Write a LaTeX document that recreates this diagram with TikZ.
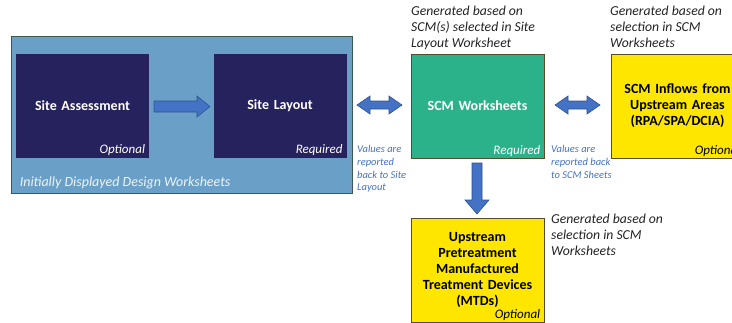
\documentclass[tikz,border=0pt]{standalone}
\usepackage{fontspec}
\setmainfont{Carlito}
\definecolor{panel}{RGB}{106,160,200}
\definecolor{paneledge}{RGB}{60,90,80}
\definecolor{navy}{RGB}{38,34,94}
\definecolor{scmgreen}{RGB}{44,178,139}
\definecolor{scmyellow}{RGB}{255,230,0}
\definecolor{boxedge}{RGB}{90,75,45}
\definecolor{arrowblue}{RGB}{68,114,196}
\definecolor{arrowedge}{RGB}{47,82,143}
\definecolor{notecol}{RGB}{68,114,196}
\definecolor{captioncol}{RGB}{35,35,35}
\tikzset{
  box/.style={minimum width=133pt, minimum height=104pt, inner sep=0pt,
    align=center, text width=128pt, font=\fontsize{14}{16}\selectfont\bfseries},
  darkbox/.style={box, fill=navy, text=white},
  greenbox/.style={box, fill=scmgreen, draw=boxedge, line width=0.8pt, text=white},
  yellowbox/.style={box, fill=scmyellow, draw=boxedge, line width=0.8pt, text=black},
  tag/.style={anchor=south east, inner sep=0pt, font=\fontsize{13}{14}\selectfont\itshape},
  caption/.style={anchor=north west, inner sep=0pt, align=left, text=captioncol,
    font=\fontsize{13.7}{16}\selectfont\itshape},
  note/.style={anchor=north west, inner sep=0pt, align=left, text=notecol,
    font=\fontsize{10.5}{12.8}\selectfont\itshape},
  blockarrow/.style={fill=arrowblue, draw=arrowedge, line width=0.6pt, line join=miter},
}
\begin{document}
\begin{tikzpicture}[x=1pt, y=-1pt]
\useasboundingbox (0,0) rectangle (732,322);
\begin{scope}
\clip (0,0) rectangle (732,322);

% panel holding the initially displayed worksheets
\node[draw=paneledge, fill=panel, line width=0.8pt, minimum width=341pt,
  minimum height=157pt, inner sep=0pt] (panel) at (181.5,114.5) {};
\node[anchor=south west, inner sep=0pt, text=white!88!panel,
  font=\fontsize{14}{16}\selectfont\itshape] (paneltitle)
  at ([xshift=9pt,yshift=4pt]panel.south west) {Initially Displayed Design Worksheets};

% worksheet boxes
\node[darkbox] (sa) at (82.5,106) {Site Assessment};
\node[darkbox] (sl) at (280,106) {Site Layout};
\node[greenbox] (scm) at (477.5,106) {SCM Worksheets};
\node[yellowbox] (inflow) at (677.5,106) {SCM Inflows from\\Upstream Areas\\(RPA/SPA/DCIA)};
\node[yellowbox] (mtd) at (477.5,270) {Upstream\\Pretreatment\\Manufactured\\Treatment Devices\\(MTDs)};

% status tags
\node[tag, text=white] (saT) at ([xshift=-4pt,yshift=2pt]sa.south east) {Optional};
\node[tag, text=white] (slT) at ([xshift=-4pt,yshift=2pt]sl.south east) {Required};
\node[tag, text=white] (scmT) at ([xshift=-4pt,yshift=2pt]scm.south east) {Required};
\node[tag] (inflowT) at ([xshift=-4pt,yshift=2pt]inflow.south east) {Optional};
\node[tag] (mtdT) at ([xshift=-4pt,yshift=2pt]mtd.south east) {Optional};

% captions
\node[caption] (capscm) at (411,6) {Generated based on\\SCM(s) selected in Site\\Layout Worksheet};
\node[caption] (capinflow) at (610,6) {Generated based on\\selection in SCM\\Worksheets};
\node[caption] (capmtd) at (551,214) {Generated based on\\selection in SCM\\Worksheets};

% notes under the two-way arrows
\node[note] (note1) at (357,145) {Values are\\reported\\back to Site\\Layout};
\node[note] (note2) at (551,145) {Values are\\reported back\\to SCM Sheets};

% block arrows
\draw[blockarrow] (154,101) -- (197,101) -- (197,96) -- (210,106.5) -- (197,117)
  -- (197,112) -- (154,112) -- cycle;
\draw[blockarrow] (357,105) -- (370,96) -- (370,101) -- (389,101) -- (389,96)
  -- (402,105) -- (389,114) -- (389,109) -- (370,109) -- (370,114) -- cycle;
\draw[blockarrow] (555,105) -- (568,96) -- (568,101) -- (587,101) -- (587,96)
  -- (600,105) -- (587,114) -- (587,109) -- (568,109) -- (568,114) -- cycle;
\draw[blockarrow] (472,163) -- (482,163) -- (482,200) -- (489,200) -- (477,214)
  -- (465,200) -- (472,200) -- cycle;
\end{scope}
\end{tikzpicture}
\end{document}
